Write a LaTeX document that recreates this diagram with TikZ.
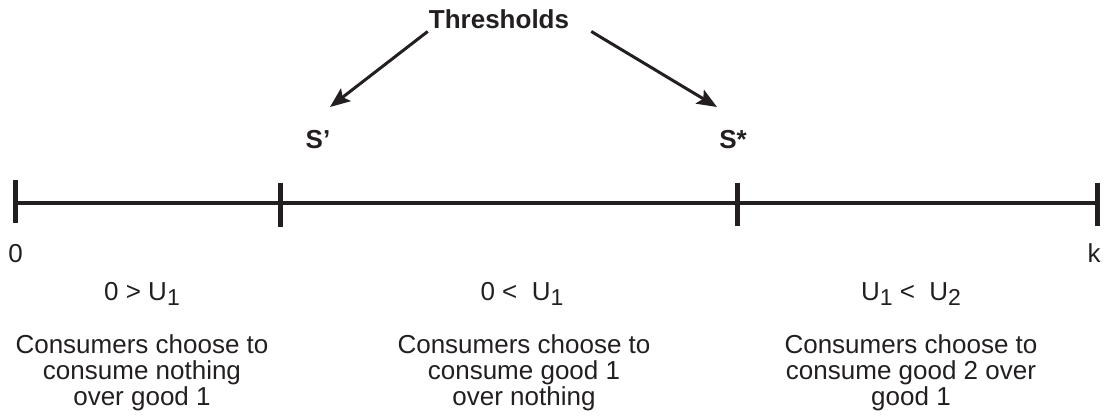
\documentclass[tikz,border=0pt]{standalone}
\usepackage{fontspec}
\setmainfont{Liberation Sans}
\usetikzlibrary{arrows.meta}
\definecolor{ink}{HTML}{231F20}
\newcommand\lowsub[1]{\raisebox{-5.5pt}{\fontsize{23}{23}\selectfont #1}}
\tikzset{
  lbl/.style={inner sep=0pt, text=ink, font=\fontsize{26}{26}\selectfont},
  blbl/.style={inner sep=0pt, text=ink, font=\fontsize{26}{26}\selectfont\bfseries},
  block/.style={lbl, align=center, anchor=north},
  axisline/.style={draw=ink, line width=4pt},
  tickline/.style={draw=ink, line width=5pt},
  arr/.style={draw=ink, line width=3pt, -{Stealth[length=20pt,width=16pt,inset=4pt]}}
}
\begin{document}
\begin{tikzpicture}[x=1pt,y=-1pt]
\useasboundingbox (0,0) rectangle (1109,416);
% axis points
\coordinate (p0) at (15,203);
\coordinate (ps1) at (280,203);
\coordinate (ps2) at (737,203);
\coordinate (pk) at (1097,203);
\draw[axisline] (p0) -- (pk);
\draw[tickline] ([yshift=23pt]p0) -- ([yshift=-20pt]p0);
\draw[tickline] ([yshift=20pt]ps1) -- ([yshift=-24pt]ps1);
\draw[tickline] ([yshift=20pt]ps2) -- ([yshift=-23pt]ps2);
\draw[tickline] ([yshift=20pt]pk) -- ([yshift=-23pt]pk);
% top labels
\node[blbl, anchor=base] (thr) at (499,28) {Thresholds};
\node[blbl, anchor=base] (sp) at (318,148) {S’};
\node[blbl, anchor=base] (ss) at (733,148) {S*};
\coordinate (tip1) at (330,107);
\coordinate (tip2) at (717,107);
\draw[arr] ([xshift=-1pt,yshift=-3pt]thr.south west) -- (tip1);
\draw[arr] ([xshift=22pt,yshift=-3pt]thr.south east) -- (tip2);
% end labels
\node[lbl, anchor=base] (zero) at (15.5,262) {0};
\node[lbl, anchor=base] (kk) at (1094,262) {k};
% conditions
\node[lbl, anchor=base] (c1) at (142,300) {0 > U\lowsub{1}};
\node[lbl, anchor=base] (c2) at (522,300) {0 <\ \ U\lowsub{1}};
\node[lbl, anchor=base] (c3) at (911,300) {U\lowsub{1} <\ \ U\lowsub{2}};
% descriptions
\node[block] (d1) at (142,334) {Consumers choose to\\consume nothing\\over good 1};
\node[block] (d2) at (524,334) {Consumers choose to\\consume good 1\\over nothing};
\node[block] (d3) at (911,334) {Consumers choose to\\consume good 2 over\\good 1};
\end{tikzpicture}
\end{document}
